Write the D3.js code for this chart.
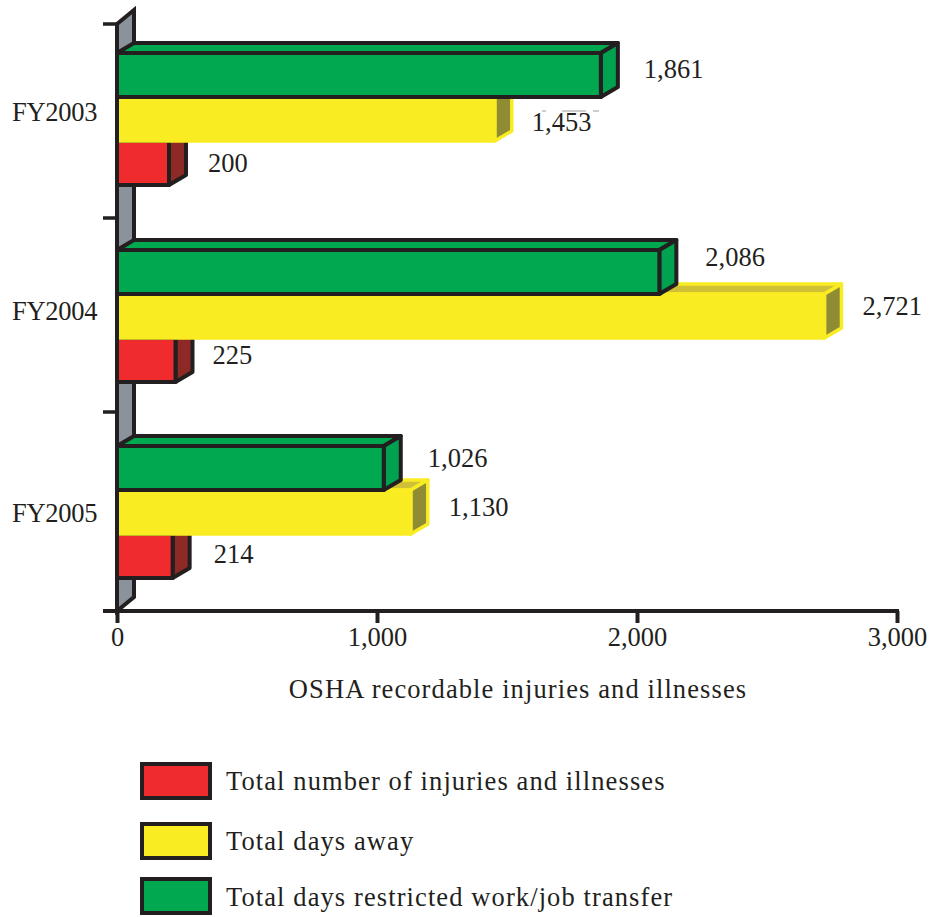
<!DOCTYPE html>
<html>
<head>
<meta charset="utf-8">
<style>
html,body{margin:0;padding:0;background:#fff}
svg{display:block}
text{font-family:"Liberation Serif",serif;font-size:26.5px;fill:#231f20}
.prose{letter-spacing:1.1px}
.year{letter-spacing:-0.3px}
</style>
<script src="https://cdn.jsdelivr.net/npm/d3@7/dist/d3.min.js"></script>
</head>
<body>
<script>
const years = ["FY2003","FY2004","FY2005"];
const seriesNames = ["Total days restricted work/job transfer","Total days away","Total number of injuries and illnesses"];
const restricted = [1861,2086,1026];
const daysAway = [1453,2721,1130];
const injuries = [200,225,214];
const xTicks = [0,1000,2000,3000];
const axisTitle = "OSHA recordable injuries and illnesses";
const legendOrder = [2,1,0];

const W=929,H=917, dark="#231f20";
const fills=["#00a94f","#f9ec23","#ef2b2d"];
const sides=["#00a14f","#8f8c33","#8e2a26"];
const tops=["#00a94f","#d0c035","#ef2b2d"];
const edges=[dark,"#f9ec23",dark];
const edgeW=[4,3.5,4];
const dx=17, dy=10;
const baseY=611, wallTop=24;

const x=d3.scaleLinear().domain([0,3000]).range([117,897]);
const yGroup=d3.scaleOrdinal().domain(years).range([53,250,446]);
const yBar=d3.scaleBand().domain(seriesNames).range([0,132]);
const yTick=d3.scalePoint().domain(d3.range(3)).range([wallTop,412]);

// layout of value labels, per series then year (distance from bar end, vertical centre)
const labelGap=[[43,46,44],[37,38,38],[39,37,41]];
const labelY=[[69,257,458],[122,306,507],[163,355,554]];
const yearLabelY=[112,311,513];

const svg=d3.select("body").append("svg").attr("width",W).attr("height",H);

// wall
svg.append("path")
  .attr("d",`M${x(0)},${wallTop}L${x(0)+dx},${wallTop-14}V${baseY-14}L${x(0)},${baseY}Z`)
  .attr("fill","#8a939c").attr("stroke",dark).attr("stroke-width",4).attr("stroke-linejoin","miter");

// y ticks
svg.append("g").selectAll("line").data(d3.range(3)).join("line")
  .attr("x1",103).attr("x2",x(0)).attr("y1",d=>yTick(d)).attr("y2",d=>yTick(d))
  .attr("stroke",dark).attr("stroke-width",3.5);

// bars: drawn red, yellow, green so the nearer ones overlap
const rows=[restricted,daysAway,injuries];
[2,1,0].forEach(s=>{
  const g=svg.append("g");
  years.forEach((yr,i)=>{
    const x0=x(0), x1=x(rows[s][i]), t=yGroup(yr)+yBar(seriesNames[s]), b=t+yBar.bandwidth();
    const st={stroke:edges[s],"stroke-width":edgeW[s],"stroke-linejoin":"round"};
    const poly=(pts,fill)=>{const p=g.append("polygon").attr("points",pts.join(" ")).attr("fill",fill);
      Object.entries(st).forEach(([k,v])=>p.attr(k,v));return p;};
    poly([[x0,t],[x0+dx,t-dy],[x1+dx,t-dy],[x1,t]],tops[s]);
    poly([[x1,t],[x1+dx,t-dy],[x1+dx,b-dy],[x1,b]],sides[s]);
    poly([[x0,t],[x1,t],[x1,b],[x0,b]],fills[s]);
  });
});

// left axis edge over bars
svg.append("line").attr("x1",x(0)).attr("x2",x(0)).attr("y1",wallTop).attr("y2",baseY)
  .attr("stroke",dark).attr("stroke-width",4);

// x axis
const xAxis=svg.append("g").attr("transform",`translate(0,${baseY})`)
  .call(d3.axisBottom(x).tickValues(xTicks).tickFormat(d3.format(",")).tickSize(12).tickPadding(4));
xAxis.select(".domain").remove();
xAxis.selectAll(".tick line").attr("stroke",dark).attr("stroke-width",4);
xAxis.selectAll(".tick text").style("font-family",'"Liberation Serif",serif').style("font-size","26.5px").attr("fill",dark);
svg.append("line").attr("x1",103).attr("x2",x(3000)+2).attr("y1",baseY).attr("y2",baseY)
  .attr("stroke",dark).attr("stroke-width",4);

// year labels
svg.append("g").selectAll("text").data(years).join("text").attr("class","year")
  .attr("x",12).attr("y",(d,i)=>yearLabelY[i]).attr("dy","0.35em").text(d=>d);

// value labels
rows.forEach((r,s)=>{
  svg.append("g").selectAll("text").data(r).join("text")
    .attr("x",(d,i)=>x(d)+labelGap[s][i]).attr("y",(d,i)=>labelY[s][i]).attr("dy","0.35em")
    .text(d3.format(","));
});

// faint print fragments above the 1,453 label
svg.append("line").attr("x1",542).attr("x2",600).attr("y1",111).attr("y2",111)
  .attr("stroke","#9a9a9a").attr("stroke-width",1).attr("stroke-dasharray","4 16 24 7 6 100");

svg.append("text").attr("class","prose").attr("x",518).attr("y",689).attr("dy","0.35em").attr("text-anchor","middle").text(axisTitle);

// legend
const legY=d3.scaleOrdinal().domain(legendOrder).range([781,841,896]);
const leg=svg.append("g").selectAll("g").data(legendOrder).join("g");
leg.append("rect").attr("x",142).attr("width",68).attr("y",d=>legY(d)-17).attr("height",34)
  .attr("fill",d=>fills[d]).attr("stroke",dark).attr("stroke-width",4);
leg.append("text").attr("class","prose").attr("x",226).attr("y",d=>legY(d)+(d===0?1:0)).attr("dy","0.35em").text(d=>seriesNames[d]);
</script>
</body>
</html>
